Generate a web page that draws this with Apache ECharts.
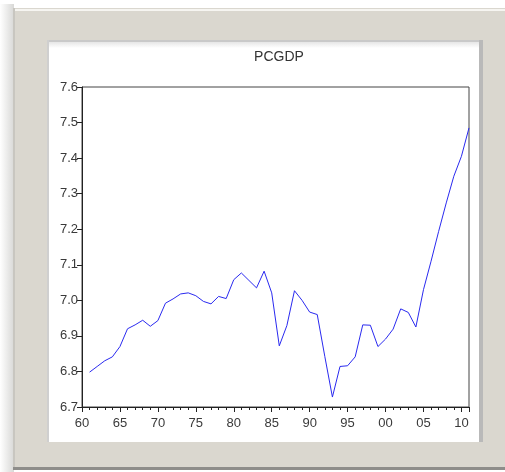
<!DOCTYPE html>
<html>
<head>
<meta charset="utf-8">
<script src="https://cdn.jsdelivr.net/npm/echarts@6/dist/echarts.min.js"></script>
<style>
  html, body { margin: 0; padding: 0; background: #ffffff; }
  #chart { width: 505px; height: 472px; }
</style>
</head>
<body>
<div id="chart"></div>
<script>
  var years = [1961, 1962, 1963, 1964, 1965, 1966, 1967, 1968, 1969, 1970,
               1971, 1972, 1973, 1974, 1975, 1976, 1977, 1978, 1979, 1980,
               1981, 1982, 1983, 1984, 1985, 1986, 1987, 1988, 1989, 1990,
               1991, 1992, 1993, 1994, 1995, 1996, 1997, 1998, 1999, 2000,
               2001, 2002, 2003, 2004, 2005, 2006, 2007, 2008, 2009, 2010,
               2011];
  var pcgdp = [6.798, 6.814, 6.830, 6.841, 6.870, 6.920, 6.931, 6.944, 6.927, 6.943,
               6.992, 7.004, 7.018, 7.021, 7.013, 6.997, 6.990, 7.011, 7.005, 7.058,
               7.077, 7.056, 7.035, 7.082, 7.021, 6.872, 6.929, 7.027, 7.000, 6.967,
               6.960, 6.842, 6.728, 6.814, 6.816, 6.841, 6.931, 6.930, 6.870, 6.891,
               6.919, 6.976, 6.966, 6.925, 7.030, 7.110, 7.194, 7.274, 7.349, 7.405,
               7.485];
  var titleText = 'PCGDP';

  var chart = echarts.init(document.getElementById('chart'));
  var font = '"Liberation Sans", Arial, sans-serif';

  var points = years.map(function (y, i) { return [y, pcgdp[i]]; });

  chart.setOption({
    animation: false,
    backgroundColor: '#ffffff',
    graphic: [
      // soft shadow on the left
      { type: 'rect', z: -10, shape: { x: 0, y: 4, width: 14, height: 468 },
        style: { fill: new echarts.graphic.LinearGradient(0, 0, 1, 0, [
          { offset: 0, color: '#ffffff' }, { offset: 1, color: '#d8d8d6' }]) } },
      // outer grey frame
      { type: 'rect', z: -9, shape: { x: 13, y: 8, width: 492, height: 461 },
        style: { fill: '#dad7cf' } },
      { type: 'rect', z: -9, shape: { x: 13, y: 9, width: 492, height: 2 },
        style: { fill: '#f6f5f1' } },
      { type: 'rect', z: -9, shape: { x: 13, y: 8, width: 2, height: 461 },
        style: { fill: '#c8c6c0' } },
      { type: 'rect', z: -9, shape: { x: 13, y: 467, width: 492, height: 3 },
        style: { fill: '#8e8d8a' } },
      // inner white panel with bevel
      { type: 'rect', z: -8, shape: { x: 47, y: 40, width: 436, height: 402 },
        style: { fill: '#ffffff' } },
      { type: 'rect', z: -8, shape: { x: 47, y: 40, width: 436, height: 2 },
        style: { fill: '#c9c9c9' } },
      { type: 'rect', z: -8, shape: { x: 47, y: 40, width: 2, height: 402 },
        style: { fill: '#cfcfcf' } },
      { type: 'rect', z: -8, shape: { x: 479, y: 40, width: 4, height: 402 },
        style: { fill: '#b9b9b9' } },
      { type: 'rect', z: -8, shape: { x: 49, y: 42, width: 430, height: 6 },
        style: { fill: new echarts.graphic.LinearGradient(0, 0, 0, 1, [
          { offset: 0, color: '#e6e6e6' }, { offset: 1, color: '#ffffff' }]) } }
    ],
    title: {
      text: titleText,
      left: 274,
      top: 45,
      textAlign: 'center',
      textStyle: { fontFamily: font, fontSize: 14, fontWeight: 'normal', color: '#333' }
    },
    grid: {
      left: 82, right: 36, top: 87, bottom: 65,
      show: true, borderColor: '#444', borderWidth: 1, backgroundColor: '#ffffff'
    },
    xAxis: {
      type: 'value',
      min: 1960,
      max: 2011,
      interval: 5,
      axisLine: { show: true, lineStyle: { color: '#222', width: 1 } },
      axisTick: { show: true, length: 5, lineStyle: { color: '#222' } },
      minorTick: { show: true, splitNumber: 5, length: 3, lineStyle: { color: '#222' } },
      splitLine: { show: false },
      axisLabel: {
        showMaxLabel: false,
        margin: 10,
        fontFamily: font, fontSize: 13, color: '#3a3a3a',
        formatter: function (v) {
          var s = String(v % 100);
          return s.length < 2 ? '0' + s : s;
        }
      }
    },
    yAxis: {
      type: 'value',
      min: 6.7,
      max: 7.6,
      interval: 0.1,
      axisLine: { show: true, lineStyle: { color: '#222', width: 1 } },
      axisTick: { show: true, length: 5, lineStyle: { color: '#222' } },
      splitLine: { show: false },
      axisLabel: {
        margin: 4,
        fontFamily: font, fontSize: 13, color: '#3a3a3a',
        formatter: function (v) { return v.toFixed(1); }
      }
    },
    series: [{
      type: 'line',
      data: points,
      showSymbol: false,
      lineStyle: { color: '#2a2af0', width: 1 },
      itemStyle: { color: '#2a2af0' }
    }]
  });
</script>
</body>
</html>
